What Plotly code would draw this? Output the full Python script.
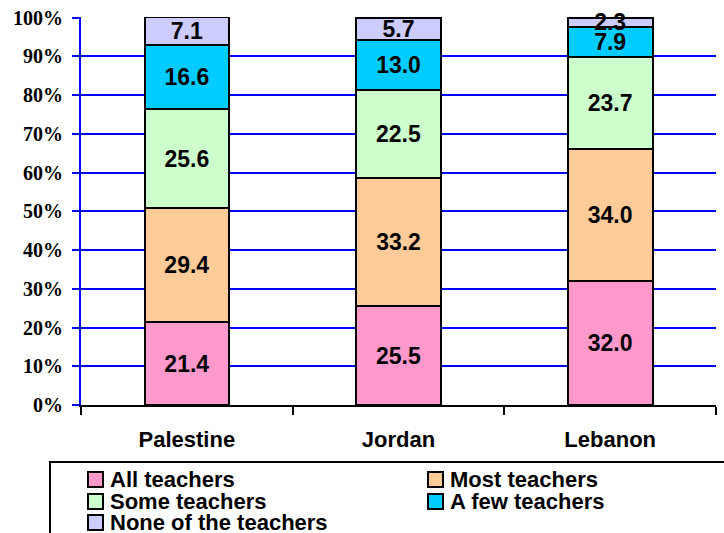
import plotly.graph_objects as go

# Countries on the category axis
countries = ["Palestine", "Jordan", "Lebanon"]

# Share of respondents (%) per answer, stacked bottom to top
all_teachers = [21.4, 25.5, 32.0]
most_teachers = [29.4, 33.2, 34.0]
some_teachers = [25.6, 22.5, 23.7]
few_teachers = [16.6, 13.0, 7.9]
none_teachers = [7.1, 5.7, 2.3]

series_names = ["All teachers", "Most teachers", "Some teachers",
                "A few teachers", "None of the teachers"]
series_values = [all_teachers, most_teachers, some_teachers,
                 few_teachers, none_teachers]
series_colors = ["#FF99CC", "#FFCC99", "#CCFFCC", "#00CCFF", "#CCCCFF"]

y_ticks = [0, 10, 20, 30, 40, 50, 60, 70, 80, 90, 100]
y_tick_labels = ["0%", "10%", "20%", "30%", "40%", "50%",
                 "60%", "70%", "80%", "90%", "100%"]

W, H = 724, 533
ML, MR, MT, MB = 81, 8, 17, 128
PW, PH = W - ML - MR, H - MT - MB

SANS = "Liberation Sans, Arial, sans-serif"
SERIF = "Liberation Serif, Times New Roman, serif"


def px_x(px):
    return (px - ML) / PW


def px_y(py):
    return (H - MB - py) / PH


fig = go.Figure()
for name, vals, col in zip(series_names, series_values, series_colors):
    fig.add_trace(go.Bar(
        x=countries, y=vals, name=name,
        marker=dict(color=col, line=dict(color="black", width=2)),
        texttemplate="%{y:.1f}", textposition="inside",
        insidetextanchor="middle", textangle=0, constraintext="none",
        textfont=dict(family=SANS, size=23, color="black", weight="bold"),
        showlegend=False, cliponaxis=False,
    ))

# Legend drawn as a boxed two-column key below the plot
shapes = [dict(type="rect", xref="paper", yref="paper",
               x0=px_x(50), x1=px_x(760), y0=px_y(462), y1=px_y(560),
               line=dict(color="black", width=2), fillcolor="rgba(0,0,0,0)")]
annotations = []
col_x = [88, 428]
row_y = [479, 501, 522]
for i, (name, col) in enumerate(zip(series_names, series_colors)):
    cx = col_x[i % 2]
    cy = row_y[i // 2]
    shapes.append(dict(type="rect", xref="paper", yref="paper",
                       x0=px_x(cx), x1=px_x(cx + 15),
                       y0=px_y(cy + 8), y1=px_y(cy - 7),
                       line=dict(color="black", width=2), fillcolor=col))
    annotations.append(dict(xref="paper", yref="paper", x=px_x(cx + 20), y=px_y(cy),
                            xanchor="left", yanchor="middle", showarrow=False,
                            text=name,
                            font=dict(family=SANS, size=22, color="black", weight="bold")))

fig.update_layout(
    width=W, height=H,
    margin=dict(l=ML, r=MR, t=MT, b=MB, autoexpand=False),
    barmode="stack", bargap=0.6,
    plot_bgcolor="white", paper_bgcolor="white",
    shapes=shapes, annotations=annotations,
    xaxis=dict(
        type="category", tickson="boundaries", range=[-0.5, 2.5],
        showline=True, linecolor="black", linewidth=2,
        ticks="outside", ticklen=8, tickwidth=2, tickcolor="black",
        showgrid=False, ticklabelstandoff=14,
        tickfont=dict(family=SANS, size=22, color="black", weight="bold"),
    ),
    yaxis=dict(
        range=[0, 100.15], tickmode="array",
        tickvals=y_ticks, ticktext=y_tick_labels,
        showline=True, linecolor="#0000FF", linewidth=2,
        ticks="outside", ticklen=7, tickwidth=2, tickcolor="#0000FF",
        showgrid=True, gridcolor="#0000FF", gridwidth=2, zeroline=False,
        ticklabelstandoff=5,
        tickfont=dict(family=SERIF, size=20, color="black", weight="bold"),
    ),
)

fig.write_html("out.html")
